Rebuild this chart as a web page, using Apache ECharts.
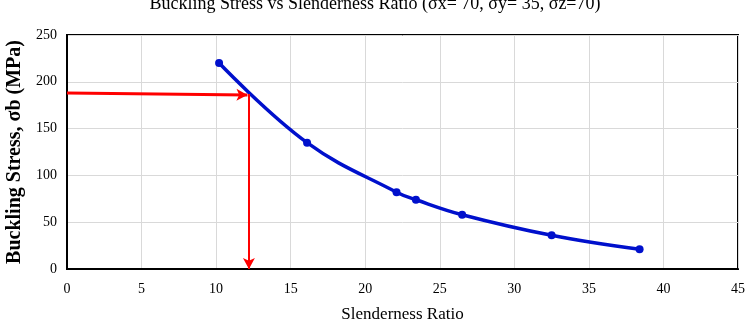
<!DOCTYPE html>
<html><head><meta charset="utf-8">
<script src="https://cdn.jsdelivr.net/npm/echarts@6/dist/echarts.min.js"></script>
<style>html,body{margin:0;padding:0;background:#fff}#c{width:750px;height:336px}</style>
</head><body><div id="c"></div>
<script>
const slenderness = [10.2, 16.1, 22.1, 23.4, 26.5, 32.5, 38.4];
const stress = [220, 135, 82, 74, 58, 36, 21];
const arrowH = [[0, 188], [12.1, 186]];
const arrowV = [[12.2, 187], [12.2, 0]];
const xTicks = {min: 0, max: 45, interval: 5};
const yTicks = {min: 0, max: 250, interval: 50};
const titleText = 'Buckling Stress vs Slenderness Ratio (σx= 70, σy= 35, σz=70)';

const font = 'Liberation Serif';
const chart = echarts.init(document.getElementById('c'));
chart.setOption({
  animation: false,
  title: {text: titleText, left: 'center', top: -10,
    textStyle: {fontFamily: font, fontSize: 18, fontWeight: 'normal', color: '#000'}},
  grid: {left: 67, right: 12, top: 35, bottom: 67, show: true, borderColor: '#000', borderWidth: 2,
    containLabel: false, outerBoundsMode: 'none'},
  xAxis: {type: 'value', min: xTicks.min, max: xTicks.max, interval: xTicks.interval,
    name: 'Slenderness Ratio', nameLocation: 'middle', nameGap: 37,
    nameTextStyle: {fontFamily: font, fontSize: 17, color: '#000'},
    axisLine: {lineStyle: {color: '#000', width: 2}}, axisTick: {show: false},
    axisLabel: {fontFamily: font, fontSize: 14, color: '#000', margin: 13},
    splitLine: {lineStyle: {color: '#d9d9d9'}}},
  yAxis: {type: 'value', min: yTicks.min, max: yTicks.max, interval: yTicks.interval,
    name: 'Buckling Stress, σb (MPa)', nameLocation: 'middle', nameGap: 41,
    nameTextStyle: {fontFamily: font, fontSize: 20, fontWeight: 'bold', color: '#000'},
    axisLine: {show: true, lineStyle: {color: '#000', width: 2}}, axisTick: {show: false},
    axisLabel: {fontFamily: font, fontSize: 14, color: '#000', margin: 10},
    splitLine: {lineStyle: {color: '#d9d9d9'}}},
  series: [
    {type: 'line', data: slenderness.map((x, i) => [x, stress[i]]), smooth: 0.4,
      symbol: 'circle', symbolSize: 8, lineStyle: {color: '#0010cc', width: 3.5},
      itemStyle: {color: '#0010cc'}, z: 3,
      markLine: {silent: true, symbol: ['none', 'arrow'], symbolSize: [9, 11], animation: false,
        label: {show: false}, z: 5,
        data: [
          [{coord: arrowH[0], lineStyle: {color: '#f00', width: 3, type: 'solid'}}, {coord: arrowH[1]}],
          [{coord: arrowV[0], lineStyle: {color: '#f00', width: 2, type: 'solid'}}, {coord: arrowV[1]}]
        ]}}
  ]
});
</script></body></html>
